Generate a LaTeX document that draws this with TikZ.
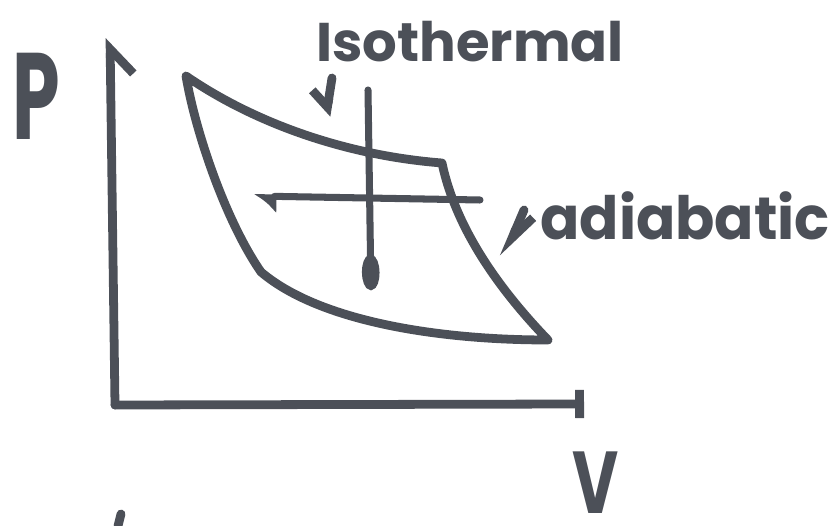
\documentclass[tikz,border=0pt]{standalone}
\usepackage{fontspec}
\setmainfont{Poppins}
\usetikzlibrary{positioning, arrows.meta}
\definecolor{ink}{RGB}{76,80,88}

\tikzset{
    marker/.style={draw=ink, line width=5pt, line cap=round, line join=round},
    thinmarker/.style={marker, line width=4pt},
    scrawl/.style={text=ink, inner sep=0pt, font=\bfseries\fontsize{31}{34}\selectfont},
}

\begin{document}
\begin{tikzpicture}[x=0.02cm, y=-0.02cm]
    \useasboundingbox (0,0) rectangle (839,526);

    % axes
    \coordinate (origin) at (115,405);
    \coordinate (ytop) at (110,38);
    \coordinate (xend) at (584,404);
    \draw[marker, -{Straight Barb[right, length=14pt, width=26pt]}] (origin) -- (ytop);
    \draw[marker, -{Bar[width=16pt]}] (origin) -- (xend);
    \node[scrawl, anchor=base west, font=\bfseries\fontsize{70}{74}\selectfont, xscale=0.62] (pname) at (12,140) {P};
    \node[scrawl, anchor=base west, font=\bfseries\fontsize{50}{54}\selectfont, xscale=0.72] (vname) at (572,514) {V};

    % cycle
    \coordinate (A) at (186,76);
    \coordinate (B) at (442,163);
    \coordinate (C) at (548,340);
    \coordinate (D) at (261,272);
    \draw[marker] (A) .. controls (250,120) and (340,155) .. (B)
        .. controls (455,225) and (495,285) .. (C)
        .. controls (440,340) and (320,322) .. (D)
        .. controls (225,220) and (195,130) .. (A);

    % cross
    \coordinate (hstart) at (480,200);
    \coordinate (hend) at (254,196);
    \coordinate (vtop) at (368,90);
    \coordinate (vend) at (371,290);
    \draw[thinmarker, -{Latex[left, length=11pt, width=20pt]}] (hstart) -- (hend);
    \draw[thinmarker, -{Ellipse[length=20pt, width=10pt]}] (vtop) -- (vend);

    % labels
    \node[scrawl, anchor=base west] (iso) at (316,62) {Isothermal};
    \node[scrawl, anchor=base west, font=\bfseries\fontsize{34}{38}\selectfont, xscale=0.97] (adia) at (540,240) {adiabatic};
    \coordinate (isofoot) at (332,78);
    \coordinate (isotip) at (326,116);
    \coordinate (adiafoot) at (524,210);
    \coordinate (adiatip) at (504,257);
    \draw[marker, -{Straight Barb[right, length=8pt, width=20pt]}] (isofoot) -- (isotip);
    \draw[marker, -{Straight Barb[left, length=15pt, width=13pt]}] (adiafoot) -- (adiatip);

    % cut-off mark
    \coordinate (cuttop) at (121,514);
    \coordinate (cutend) at (118,526);
    \draw[marker] (cutend) -- (cuttop);
\end{tikzpicture}
\end{document}
